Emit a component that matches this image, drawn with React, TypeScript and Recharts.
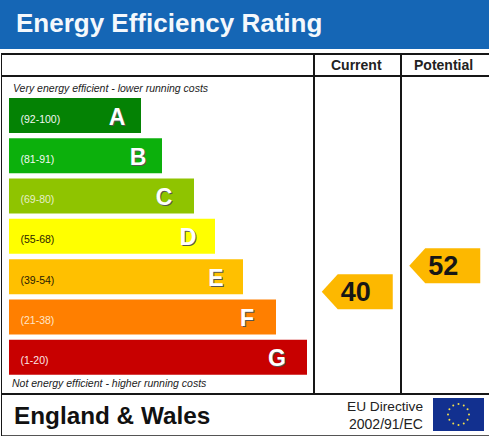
import React from "react";
import { BarChart, Bar, XAxis, YAxis, Cell, LabelList, ScatterChart, Scatter } from "recharts";

const bands = ["A", "B", "C", "D", "E", "F", "G"];
const ranges = ["(92-100)", "(81-91)", "(69-80)", "(55-68)", "(39-54)", "(21-38)", "(1-20)"];
const barLengths = [132, 153, 185, 206, 234, 267, 298];
const bandColors = ["#048204", "#0cb00c", "#8fc400", "#ffff00", "#ffc000", "#ff7f00", "#c80000"];
const rangeColors = ["#f2f7f2", "#f2f9f2", "#e6efc8", "#2a2400", "#2a1c00", "#ffe6c8", "#fbe6e6"];

const columns = ["Current", "Potential"];
const ratings = [40, 52];

const FONT = "'Liberation Sans', Arial, sans-serif";
const ARROW = "#fdb800";
const LINE = "#161616";

// how far each letter sits in from the end of its bar
const letterInsets: Record<string, number> = { A: 24, B: 24, C: 30, D: 27, E: 27, F: 29, G: 30 };

const barData = bands.map((band, i) => ({ band, range: ranges[i], length: barLengths[i] }));
const arrowData = columns.map((column, i) => ({ column, rating: ratings[i] }));

function box(left: number, top: number, width: number, height: number, background: string) {
  return <div style={{ position: "absolute", left, top, width, height, background }} />;
}

function text(left: number, top: number, content: string, style: React.CSSProperties) {
  return (
    <div style={{ position: "absolute", left, top, whiteSpace: "nowrap", fontFamily: FONT, ...style }}>
      {content}
    </div>
  );
}

function RangeLabel(props: any) {
  const { x, y, height, value, index } = props;
  return (
    <text x={x + 11.5} y={y + height / 2 + 7} fontSize={10.5} fill={rangeColors[index]} fontFamily={FONT}>
      {value}
    </text>
  );
}

function LetterLabel(props: any) {
  const { x, y, width, height, value } = props;
  const lx = x + width - letterInsets[value];
  const ly = y + height / 2 + 9;
  const common = { fontSize: 23, fontWeight: "bold", textAnchor: "middle" as const, fontFamily: FONT };
  return (
    <g>
      <text x={lx + 1} y={ly + 1} fill="#555555" {...common}>
        {value}
      </text>
      <text x={lx} y={ly} fill="#ffffff" {...common}>
        {value}
      </text>
    </g>
  );
}

function RatingArrow(props: any) {
  const { cx, cy, payload } = props;
  const d = `M${cx - 36} ${cy} L${cx - 20} ${cy - 17.5} L${cx + 35} ${cy - 17.5} L${cx + 35} ${cy + 17.5} L${cx - 20} ${cy + 17.5} Z`;
  return (
    <g>
      <path d={d} fill={ARROW} />
      <text x={cx - 2} y={cy + 9} fontSize={27} fontWeight="bold" fill="#161616" textAnchor="middle" fontFamily={FONT}>
        {payload.rating}
      </text>
    </g>
  );
}

function EuFlag() {
  const stars = [0, 1, 2, 3, 4, 5, 6, 7, 8, 9, 10, 11];
  return (
    <svg style={{ position: "absolute", left: 433, top: 398 }} width={51} height={33}>
      <rect width={51} height={33} fill="#12308f" />
      {stars.map((s) => (
        <circle
          key={s}
          cx={25.5 + 10.5 * Math.sin((s * Math.PI) / 6)}
          cy={16.5 - 10.5 * Math.cos((s * Math.PI) / 6)}
          r={1}
          fill="#f4e04a"
        />
      ))}
    </svg>
  );
}

export default function App() {
  return (
    <div style={{ position: "absolute", left: 0, top: 0, width: 489, height: 437, background: "#ffffff", overflow: "hidden" }}>
      {box(0, 0, 489, 49, "#1566b5")}
      {text(16, 8, "Energy Efficiency Rating", { fontSize: 26, fontWeight: "bold", color: "#f4f8fc" })}

      {box(1, 53, 488, 2, LINE)}
      {box(1, 75, 488, 2, LINE)}
      {box(1, 393, 488, 2, LINE)}
      {box(1, 435, 488, 1, "#555555")}
      {box(1, 53, 1, 383, LINE)}
      {box(313, 53, 2, 341, LINE)}
      {box(400, 53, 2, 341, LINE)}

      {text(331, 57, "Current", { fontSize: 14, fontWeight: "bold", color: "#222222" })}
      {text(414, 57, "Potential", { fontSize: 14, fontWeight: "bold", color: "#222222" })}

      {text(13, 82, "Very energy efficient - lower running costs", { fontSize: 10.5, fontStyle: "italic", color: "#222222" })}
      {text(12, 377, "Not energy efficient - higher running costs", { fontSize: 10.5, fontStyle: "italic", color: "#222222" })}

      <div style={{ position: "absolute", left: 9, top: 95 }}>
        <BarChart width={300} height={282} data={barData} layout="vertical" margin={{ top: 0, right: 0, bottom: 0, left: 0 }}>
          <XAxis type="number" domain={[0, 300]} hide />
          <YAxis type="category" dataKey="band" hide />
          <Bar dataKey="length" barSize={35} isAnimationActive={false}>
            {barData.map((d, i) => (
              <Cell key={d.band} fill={bandColors[i]} />
            ))}
            <LabelList dataKey="range" content={RangeLabel} />
            <LabelList dataKey="band" content={LetterLabel} />
          </Bar>
        </BarChart>
      </div>

      <div style={{ position: "absolute", left: 314, top: 77 }}>
        <ScatterChart width={175} height={316} margin={{ top: 0, right: 0, bottom: 0, left: 0 }}>
          <XAxis type="category" dataKey="column" hide allowDuplicatedCategory={false} />
          <YAxis type="number" dataKey="rating" domain={[-6.6, 139]} hide />
          <Scatter data={arrowData} shape={RatingArrow} isAnimationActive={false} />
        </ScatterChart>
      </div>

      {text(14, 402, "England & Wales", { fontSize: 24.3, fontWeight: "bold", color: "#111111" })}
      {text(347, 399, "EU Directive", { fontSize: 13.7, color: "#222222" })}
      {text(349, 416, "2002/91/EC", { fontSize: 14, color: "#222222" })}
      <EuFlag />
    </div>
  );
}
